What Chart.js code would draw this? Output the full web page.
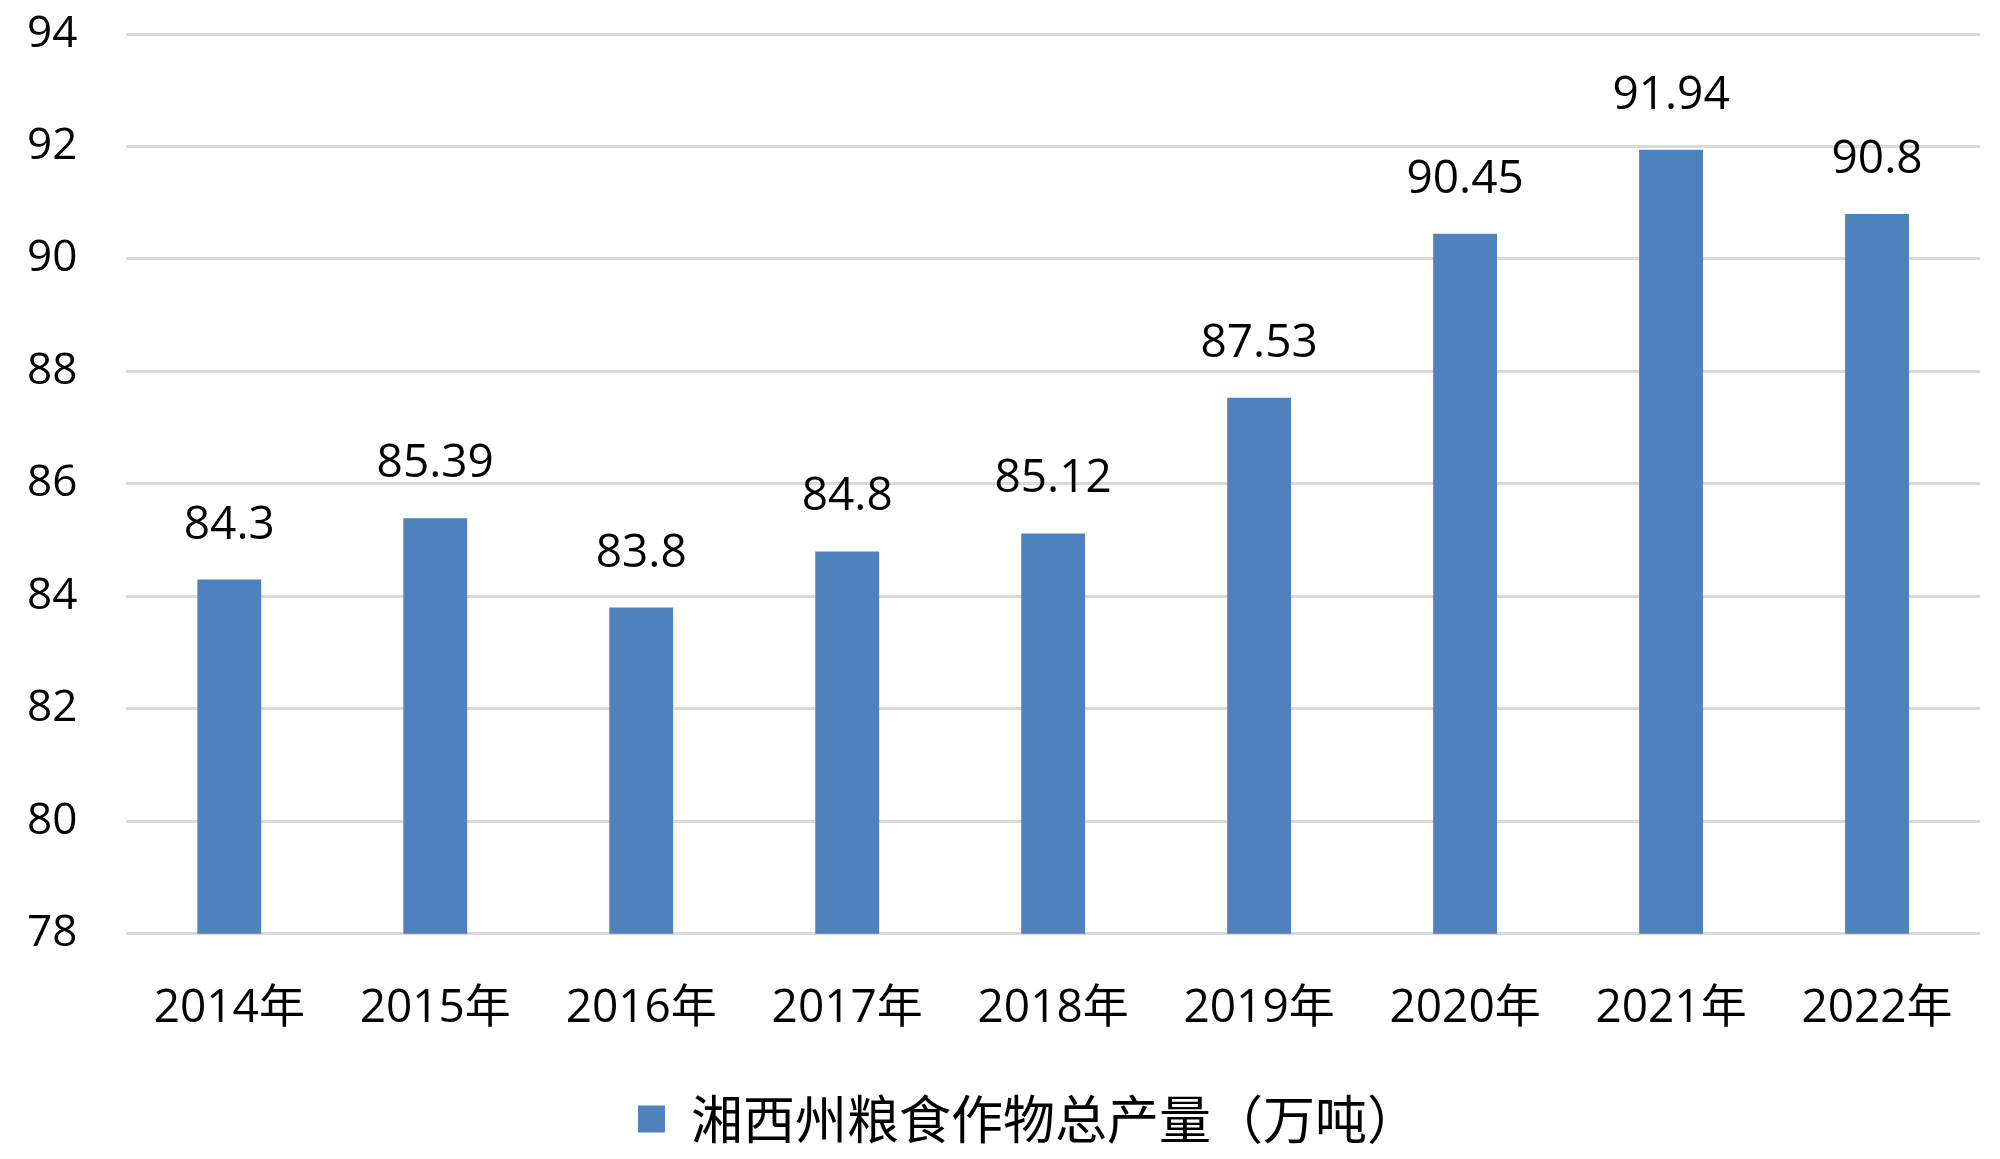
<!DOCTYPE html>
<html>
<head>
<meta charset="utf-8">
<script src="https://cdn.jsdelivr.net/npm/chart.js@4"></script>
<style>
  html, body { margin: 0; padding: 0; background: #fff; }
  #wrap { width: 2000px; height: 1159px; }
</style>
</head>
<body>
<div id="wrap"><canvas id="grainChart"></canvas></div>
<script>
// Chart data
const years = ["2014年", "2015年", "2016年", "2017年", "2018年", "2019年", "2020年", "2021年", "2022年"];
const output = [84.3, 85.39, 83.8, 84.8, 85.12, 87.53, 90.45, 91.94, 90.8];
const seriesName = "湘西州粮食作物总产量（万吨）";
const yMin = 78, yMax = 94, yStep = 2;

const FONT = '"Open Sans", "Noto Sans CJK SC", sans-serif';

// value labels above each bar
const valueLabels = {
  id: 'valueLabels',
  afterDatasetsDraw(chart) {
    const ctx = chart.ctx;
    const meta = chart.getDatasetMeta(0);
    ctx.save();
    ctx.font = '46px ' + FONT;
    ctx.fillStyle = '#000';
    ctx.textAlign = 'center';
    ctx.textBaseline = 'middle';
    meta.data.forEach((bar, i) => {
      ctx.fillText(String(output[i]), bar.x, bar.y - 54);
    });
    ctx.restore();
  }
};

// nudge the legend a bit to the right, like the original
const legendShift = {
  id: 'legendShift',
  afterLayout(chart) {
    if (chart.legend) {
      chart.legend.left += 25;
      chart.legend.right += 25;
    }
  }
};

const ctx = document.getElementById('grainChart').getContext('2d');
new Chart(ctx, {
  type: 'bar',
  data: {
    labels: years,
    datasets: [{
      label: seriesName,
      data: output,
      backgroundColor: '#4F81BD',
      borderWidth: 0,
      categoryPercentage: 1,
      barPercentage: 0.31
    }]
  },
  options: {
    responsive: true,
    maintainAspectRatio: false,
    animation: false,
    layout: { padding: { top: 34, right: 20, left: 27, bottom: 4 } },
    scales: {
      x: {
        grid: { color: 'transparent', tickColor: 'transparent', drawTicks: true, tickLength: 47 },
        border: { display: false },
        ticks: { color: '#000', padding: 0, font: { family: FONT, size: 46 } },
        // extra space between the year labels and the legend
        afterFit(scale) { scale.height += 34; }
      },
      y: {
        min: yMin,
        max: yMax,
        grid: { color: '#D9D9D9', lineWidth: 3, tickColor: 'transparent', drawTicks: true, tickLength: 49 },
        border: { display: false },
        ticks: { stepSize: yStep, color: '#000', padding: 0, font: { family: FONT, size: 44 } }
      }
    },
    plugins: {
      legend: {
        position: 'bottom',
        labels: {
          color: '#000',
          boxWidth: 27,
          boxHeight: 27,
          padding: 23,
          font: { family: '"Noto Sans CJK SC", sans-serif', size: 52 }
        }
      },
      tooltip: { enabled: false }
    }
  },
  plugins: [valueLabels, legendShift]
});
</script>
</body>
</html>
